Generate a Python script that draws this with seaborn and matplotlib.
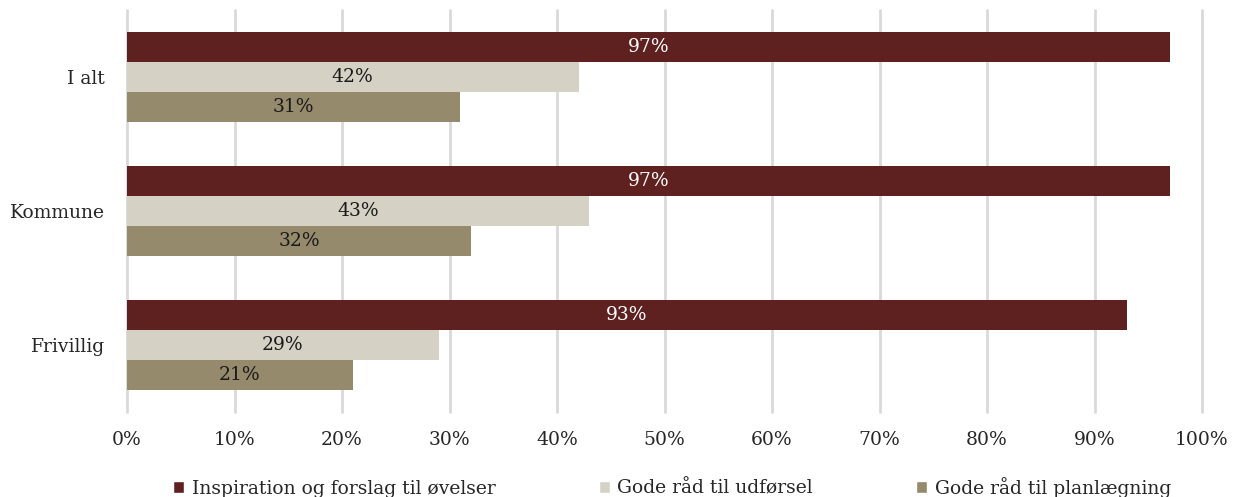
import matplotlib
matplotlib.use("Agg")
import matplotlib.pyplot as plt
import seaborn as sns
import pandas as pd
from matplotlib.patches import Patch

categories = ["I alt", "Kommune", "Frivillig"]
series = ["Inspiration og forslag til øvelser", "Gode råd til udførsel", "Gode råd til planlægning"]
inspiration = [97, 97, 93]
udforsel = [42, 43, 29]
planlaegning = [31, 32, 21]
colors = ["#5E2120", "#D5D2C5", "#968A6C"]
xticks = [0, 10, 20, 30, 40, 50, 60, 70, 80, 90, 100]

rows = []
for s, vals in zip(series, [inspiration, udforsel, planlaegning]):
    for c, v in zip(categories, vals):
        rows.append({"cat": c, "serie": s, "val": v})
df = pd.DataFrame(rows)

sns.set_theme(style="white")
plt.rcParams['font.family'] = ['DejaVu Serif']

fig = plt.figure(figsize=(12.33, 4.97), dpi=100)
ax = fig.add_axes([127/1233, 1-412/497, (1202-127)/1233, 402/497])
sns.barplot(data=df, y="cat", x="val", hue="serie", order=categories, hue_order=series,
            palette=colors, width=0.67, orient="h", ax=ax, legend=False, saturation=1,
            linewidth=0, edgecolor="none")

for i, cont in enumerate(ax.containers):
    ax.bar_label(cont, labels=[f"{int(v)}%" for v in cont.datavalues], label_type="center",
                 color="white" if i == 0 else "#1a1a1a", fontsize=13.5)

ax.set_xlim(0, 100)
ax.set_ylim(2.5, -0.5)
ax.set_xticks(xticks)
ax.set_xticklabels([f"{t}%" for t in xticks], fontsize=13.5)
ax.tick_params(axis="y", labelsize=13.5, pad=16, length=0)
ax.tick_params(axis="x", pad=14, length=0)
ax.set_xlabel("")
ax.set_ylabel("")
ax.grid(axis="x", color="#D9D9D9", linewidth=2)
for gl in ax.get_xgridlines():
    gl.set_clip_on(False)
ax.set_axisbelow(True)
for sp in ax.spines.values():
    sp.set_visible(False)

handles = [Patch(facecolor=c, label=s) for c, s in zip(colors, series)]
fig.legend(handles=handles, loc="center", bbox_to_anchor=(0.545, 0.02), ncol=3, frameon=False,
           fontsize=13.5, handlelength=0.6, handleheight=0.6, columnspacing=5.5, handletextpad=0.4)

fig.savefig("out.png", dpi=100)
